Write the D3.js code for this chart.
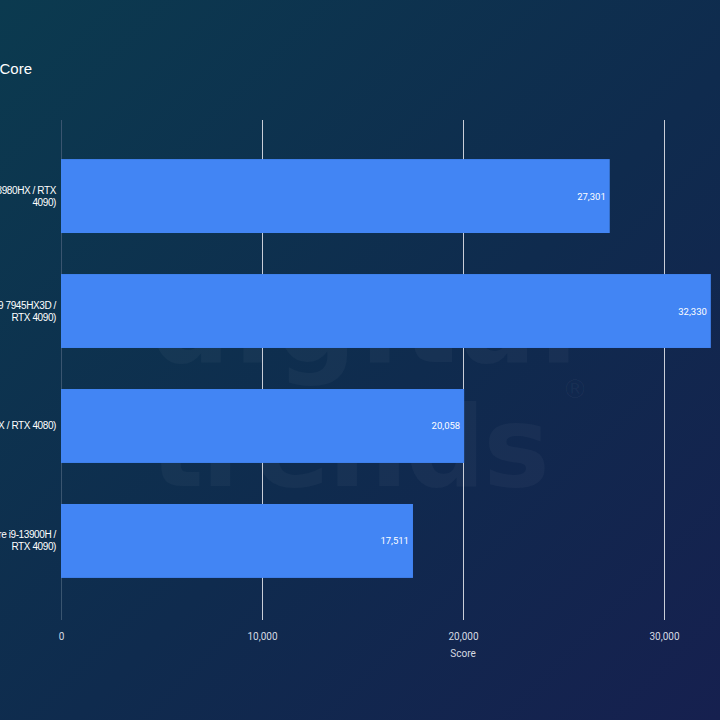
<!DOCTYPE html>
<html>
<head>
<meta charset="utf-8">
<script src="https://cdn.jsdelivr.net/npm/d3@7"></script>
<style>
  html, body { margin: 0; padding: 0; background: #0d2a4a; }
  svg { display: block; }
</style>
</head>
<body>
<div id="chart"></div>
<script>
// chart values
const title = "Cinebench R23 Multi-Core"
const categories = [
    ["Alienware m18 (Core i9-13980HX / RTX", "4090)"],
    ["Asus ROG Strix Scar 17 (Ryzen 9 7945HX3D /", "RTX 4090)"],
    ["Razer Blade 16 (Core i9-13950HX / RTX 4080)"],
    ["Asus ROG Zephyrus (Core i9-13900H /", "RTX 4090)"]
]
const scores = [27301, 32330, 20058, 17511]
const xTicks = [0, 10000, 20000, 30000]
const xLabel = "Score"

const width = 720
const height = 720
const marginTop = 120
const marginBottom = 103      // plot ends near y = 617
const marginLeft = 61
const xMax = 32950            // right edge of the plot sits past the crop

const svg = d3.select("#chart")
    .append("svg")
    .attr("width", width)
    .attr("height", height)
    .attr("viewBox", [0, 0, width, height])

// background gradient, teal top-left to navy bottom-right
const defs = svg.append("defs")
const grad = defs.append("linearGradient")
    .attr("id", "bg")
    .attr("x1", "0").attr("y1", "0")
    .attr("x2", "1").attr("y2", "1")
grad.append("stop").attr("offset", "0%").attr("stop-color", "#0b3a4f")
grad.append("stop").attr("offset", "55%").attr("stop-color", "#0f2b4e")
grad.append("stop").attr("offset", "100%").attr("stop-color", "#16204f")
svg.append("rect")
    .attr("width", width)
    .attr("height", height)
    .attr("fill", "url(#bg)")

// faint watermark
const wm = svg.append("g")
    .attr("fill", "#ffffff")
    .attr("fill-opacity", 0.035)
    .attr("font-family", "'DejaVu Sans', sans-serif")
    .attr("font-weight", "bold")
    .attr("font-size", 112)
wm.append("text").attr("x", 150).attr("y", 362).attr("textLength", 428).text("digital")
wm.append("text").attr("x", 150).attr("y", 486).attr("textLength", 400).text("trends")
wm.append("text").attr("x", 562).attr("y", 398).attr("font-size", 26).attr("font-weight", "normal").text("®")

const xScale = d3.scaleLinear()
    .domain([0, xMax])
    .range([marginLeft, marginLeft + xMax * (664 - 61) / 30000])

const yScale = d3.scaleBand()
    .domain(d3.range(categories.length))
    .range([marginTop, height - marginBottom])
    .paddingInner(0.357)
    .paddingOuter(0.34)

// grid lines
svg.append("g")
    .selectAll("line")
    .data(xTicks)
    .join("line")
    .attr("x1", d => xScale(d) + 0.5)
    .attr("x2", d => xScale(d) + 0.5)
    .attr("y1", marginTop)
    .attr("y2", height - marginBottom + 3)
    .attr("stroke", d => d === 0 ? "#3a5570" : "#c9ced8")
    .attr("stroke-width", 1)

// x axis labels
const xAxis = d3.axisBottom(xScale)
    .tickValues(xTicks)
    .tickFormat(d3.format(","))
    .tickSize(0)
    .tickPadding(0)
svg.append("g")
    .attr("transform", `translate(0,${height - marginBottom + 16})`)
    .call(xAxis)
    .call(g => g.select(".domain").remove())
    .call(g => g.selectAll("text")
        .attr("fill", "#d6dae2")
        .attr("font-family", "Roboto, sans-serif")
        .attr("font-size", 10))

svg.append("text")
    .attr("x", xScale(20000))
    .attr("y", 657)
    .attr("text-anchor", "middle")
    .attr("fill", "#d6dae2")
    .attr("font-family", "Roboto, sans-serif")
    .attr("font-size", 10)
    .text(xLabel)

// bars
svg.append("g")
    .selectAll("rect")
    .data(scores)
    .join("rect")
    .attr("x", xScale(0))
    .attr("y", (d, i) => yScale(i))
    .attr("width", d => xScale(d) - xScale(0))
    .attr("height", yScale.bandwidth())
    .attr("fill", "#4285f4")

// value labels inside bar ends
svg.append("g")
    .selectAll("text")
    .data(scores)
    .join("text")
    .attr("x", d => xScale(d) - 4)
    .attr("y", (d, i) => yScale(i) + yScale.bandwidth() / 2 + 3.5)
    .attr("text-anchor", "end")
    .attr("fill", "#ffffff")
    .attr("font-family", "Roboto, sans-serif")
    .attr("font-size", 9.5)
    .text(d3.format(","))

// category labels, right aligned left of the bars
const cat = svg.append("g")
    .selectAll("text")
    .data(categories)
    .join("text")
    .attr("text-anchor", "end")
    .attr("fill", "#ffffff")
    .attr("font-family", "'Liberation Sans', Arial, sans-serif")
    .attr("font-size", 10)
    .attr("letter-spacing", -0.4)
    .attr("transform", (d, i) => {
        const mid = yScale(i) + yScale.bandwidth() / 2
        return `translate(56,${mid - (d.length - 1) * 6 + 3.5})`
    })
cat.selectAll("tspan")
    .data(d => d)
    .join("tspan")
    .attr("x", 0)
    .attr("dy", (d, i) => i === 0 ? 0 : 12)
    .text(d => d)

// title, cut off at the left edge
svg.append("text")
    .attr("x", 32)
    .attr("y", 74)
    .attr("text-anchor", "end")
    .attr("fill", "#ffffff")
    .attr("font-family", "'Liberation Sans', Arial, sans-serif")
    .attr("font-size", 15)
    .text(title)
</script>
</body>
</html>
